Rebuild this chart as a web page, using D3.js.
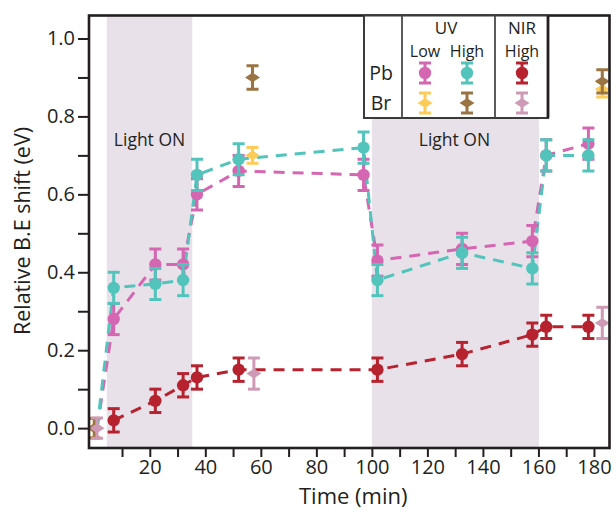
<!DOCTYPE html>
<html>
<head>
<meta charset="utf-8">
<script src="https://cdn.jsdelivr.net/npm/d3@7"></script>
<style>
  html, body { margin: 0; padding: 0; background: #fff; }
  svg text { font-family: "Open Sans", "Noto Sans", sans-serif; fill: #231f20; }
</style>
</head>
<body>
<svg id="chart" width="616" height="512"></svg>
<script>
// Time points (min) and relative binding-energy shifts (eV) with error bars
const pbUvLowTime  = [1, 7, 22, 32, 37, 52, 97, 102, 132.5, 157.8, 162.8, 178];
const pbUvLowShift = [0, 0.28, 0.42, 0.42, 0.60, 0.66, 0.65, 0.43, 0.46, 0.48, 0.70, 0.73];
const pbUvLowErr   = [null, 0.04, 0.04, 0.04, 0.04, 0.04, 0.04, 0.04, 0.04, 0.04, 0.04, 0.04];

const pbUvHighTime  = [1, 7, 22, 32, 37, 52, 97, 102, 132.5, 157.8, 162.8, 178];
const pbUvHighShift = [0, 0.36, 0.37, 0.38, 0.65, 0.69, 0.72, 0.38, 0.45, 0.41, 0.70, 0.70];
const pbUvHighErr   = [null, 0.04, 0.04, 0.04, 0.04, 0.04, 0.04, 0.04, 0.04, 0.04, 0.04, 0.04];

const pbNirHighTime  = [7, 22, 32, 37, 52, 102, 132.5, 157.8, 162.8, 178];
const pbNirHighShift = [0.02, 0.07, 0.11, 0.13, 0.15, 0.15, 0.19, 0.24, 0.26, 0.26];
const pbNirHighErr   = [0.03, 0.03, 0.03, 0.03, 0.03, 0.03, 0.03, 0.03, 0.03, 0.03];

const brUvLowTime  = [0, 57, 183];
const brUvLowShift = [0, 0.70, 0.87];
const brUvLowErr   = [0.025, 0.02, 0.02];

const brUvHighTime  = [0, 57, 183];
const brUvHighShift = [0, 0.90, 0.89];
const brUvHighErr   = [0.025, 0.03, 0.03];

const brNirHighTime  = [1, 57.5, 183];
const brNirHighShift = [0, 0.14, 0.27];
const brNirHighErr   = [0.026, 0.04, 0.04];

// Illumination windows (min)
const lightOnStart = [4.5, 100];
const lightOnEnd   = [35.3, 160.2];
const lightOnLabel = ["Light ON", "Light ON"];

const xTicks = [20, 40, 60, 80, 100, 120, 140, 160, 180];
const xMinorTicks = [10, 30, 50, 70, 90, 110, 130, 150, 170];
const yTicks = [0, 0.2, 0.4, 0.6, 0.8, 1.0];
const yMinorTicks = [0.1, 0.3, 0.5, 0.7, 0.9];

const colors = {
  pbUvLow: "#d466b2",
  pbUvHigh: "#52c4bb",
  pbNirHigh: "#b7222f",
  brUvLow: "#fdcb58",
  brUvHigh: "#9b7444",
  brNirHigh: "#cf9ab5",
  shade: "#e8e1ea"
};

const zip = (t, v, e) => t.map((d, i) => ({ t: d, v: v[i], e: e[i] }));
const series = [
  { key: "pbUvLow",   shape: "circle",  line: true,  data: zip(pbUvLowTime, pbUvLowShift, pbUvLowErr) },
  { key: "pbUvHigh",  shape: "circle",  line: true,  data: zip(pbUvHighTime, pbUvHighShift, pbUvHighErr) },
  { key: "pbNirHigh", shape: "circle",  line: true,  data: zip(pbNirHighTime, pbNirHighShift, pbNirHighErr) },
  { key: "brUvLow",   shape: "diamond", line: false, data: zip(brUvLowTime, brUvLowShift, brUvLowErr) },
  { key: "brUvHigh",  shape: "diamond", line: false, data: zip(brUvHighTime, brUvHighShift, brUvHighErr) },
  { key: "brNirHigh", shape: "diamond", line: false, data: zip(brNirHighTime, brNirHighShift, brNirHighErr) }
];

const svg = d3.select("#chart");
const plot = { left: 89, right: 609.5, top: 15.5, bottom: 448 };

const x = d3.scaleLinear().domain([-1.9, 185.6]).range([plot.left, plot.right]);
const y = d3.scaleLinear().domain([-0.051, 1.059]).range([plot.bottom, plot.top]);

svg.append("defs").append("clipPath").attr("id", "plotClip")
  .append("rect")
  .attr("x", plot.left).attr("y", plot.top)
  .attr("width", plot.right - plot.left).attr("height", plot.bottom - plot.top);

// Shaded illumination windows
const windows = lightOnStart.map((s, i) => ({ s, e: lightOnEnd[i], label: lightOnLabel[i] }));
svg.append("g").selectAll("rect")
  .data(windows)
  .join("rect")
  .attr("x", d => x(d.s)).attr("y", plot.top)
  .attr("width", d => x(d.e) - x(d.s)).attr("height", plot.bottom - plot.top)
  .attr("fill", colors.shade);

svg.append("g").selectAll("text")
  .data(windows)
  .join("text")
  .attr("x", d => (x(d.s) + x(d.e)) / 2 - (d.s < 50 ? 0 : 1))
  .attr("y", 146)
  .attr("text-anchor", "middle")
  .attr("font-size", 17.5)
  .text(d => d.label);

// Dashed connecting lines
const line = d3.line().x(d => x(d.t)).y(d => y(d.v));
const gLines = svg.append("g").attr("clip-path", "url(#plotClip)");
series.filter(s => s.line).forEach(s => {
  gLines.append("path")
    .attr("d", line(s.data))
    .attr("fill", "none")
    .attr("stroke", colors[s.key])
    .attr("stroke-width", 3)
    .attr("stroke-dasharray", "11,8");
});

// Error bars and markers
const capHalf = 6;
const diamond = (cx, cy) => `M${cx - 7.5},${cy} L${cx},${cy - 4.8} L${cx + 7.5},${cy} L${cx},${cy + 4.8} Z`;
const gMarks = svg.append("g").attr("clip-path", "url(#plotClip)");
series.forEach(s => {
  const c = colors[s.key];
  const g = gMarks.append("g");
  s.data.filter(d => d.e != null).forEach(d => {
    const cx = x(d.t), y0 = y(d.v - d.e), y1 = y(d.v + d.e);
    g.append("line").attr("x1", cx).attr("x2", cx).attr("y1", y0).attr("y2", y1)
      .attr("stroke", c).attr("stroke-width", 3);
    [y0, y1].forEach(yy => g.append("line")
      .attr("x1", cx - capHalf).attr("x2", cx + capHalf).attr("y1", yy).attr("y2", yy)
      .attr("stroke", c).attr("stroke-width", 3));
    if (s.shape === "circle") {
      g.append("circle").attr("cx", cx).attr("cy", y(d.v)).attr("r", 6.2).attr("fill", c);
    } else {
      g.append("path").attr("d", diamond(cx, y(d.v))).attr("fill", c);
    }
  });
});

// Axes
const xAxis = d3.axisBottom(x).tickValues(xTicks).tickSize(9).tickPadding(3).tickFormat(d3.format("d"));
const xMinor = d3.axisBottom(x).tickValues(xMinorTicks).tickSize(9).tickFormat("");
const yAxis = d3.axisLeft(y).tickValues(yTicks).tickSize(11).tickPadding(3).tickFormat(d3.format(".1f"));
const yMinor = d3.axisLeft(y).tickValues(yMinorTicks).tickSize(11).tickFormat("");

function styleAxis(g) {
  g.select(".domain").remove();
  g.selectAll(".tick line").attr("stroke", "#231f20").attr("stroke-width", 2);
  g.selectAll(".tick text").attr("font-size", 20).attr("font-family", "\"Open Sans\", sans-serif").attr("fill", "#231f20");
}
svg.append("g").attr("transform", `translate(0,${plot.bottom})`).call(xAxis).call(styleAxis);
svg.append("g").attr("transform", `translate(0,${plot.bottom})`).call(xMinor).call(styleAxis);
svg.append("g").attr("transform", `translate(${plot.left},0)`).call(yAxis).call(styleAxis);
svg.append("g").attr("transform", `translate(${plot.left},0)`).call(yMinor).call(styleAxis);

// Frame
svg.append("rect")
  .attr("x", plot.left).attr("y", plot.top)
  .attr("width", plot.right - plot.left).attr("height", plot.bottom - plot.top)
  .attr("fill", "none").attr("stroke", "#231f20").attr("stroke-width", 2.6);

// Axis titles
svg.append("text")
  .attr("x", (plot.left + plot.right) / 2 + 4).attr("y", 504)
  .attr("text-anchor", "middle").attr("font-size", 22)
  .text("Time (min)");
svg.append("text")
  .attr("transform", "translate(30,231) rotate(-90)")
  .attr("text-anchor", "middle").attr("font-size", 21.5)
  .text("Relative B.E shift (eV)");

// Legend table
const legendRows = ["Pb", "Br"];
const legendCols = [
  { head: "UV", sub: "Low", cx: 425 },
  { head: "", sub: "High", cx: 467 },
  { head: "NIR", sub: "High", cx: 522 }
];
const legendKeys = [["pbUvLow", "pbUvHigh", "pbNirHigh"], ["brUvLow", "brUvHigh", "brNirHigh"]];
const leg = { left: 364, right: 548, top: 15.5, bottom: 118, div1: 402, div2: 495 };
const lg = svg.append("g");
lg.append("rect")
  .attr("x", leg.left).attr("y", leg.top)
  .attr("width", leg.right - leg.left).attr("height", leg.bottom - leg.top)
  .attr("fill", "#fff").attr("stroke", "#3a3a3a").attr("stroke-width", 2);
lg.append("line").attr("x1", leg.right).attr("x2", leg.right).attr("y1", leg.top).attr("y2", leg.bottom)
  .attr("stroke", "#231f20").attr("stroke-width", 2.8);
[leg.div1, leg.div2].forEach(xx => lg.append("line")
  .attr("x1", xx).attr("x2", xx).attr("y1", leg.top).attr("y2", leg.bottom)
  .attr("stroke", "#4a4a4a").attr("stroke-width", 1.8));
lg.append("text").attr("x", 446).attr("y", 34).attr("text-anchor", "middle").attr("font-size", 17).text("UV");
lg.append("text").attr("x", 522).attr("y", 34).attr("text-anchor", "middle").attr("font-size", 17).text("NIR");
legendCols.forEach(c => lg.append("text")
  .attr("x", c.cx).attr("y", 57).attr("text-anchor", "middle").attr("font-size", 16).text(c.sub));
legendRows.forEach((r, i) => {
  const ry = 73 + i * 30;
  lg.append("text").attr("x", 381).attr("y", ry + 7).attr("text-anchor", "middle").attr("font-size", 19.5).text(r);
  legendKeys[i].forEach((k, j) => {
    const cx = legendCols[j].cx, c = colors[k];
    lg.append("line").attr("x1", cx).attr("x2", cx).attr("y1", ry - 10).attr("y2", ry + 10)
      .attr("stroke", c).attr("stroke-width", 3);
    [ry - 10, ry + 10].forEach(yy => lg.append("line")
      .attr("x1", cx - capHalf).attr("x2", cx + capHalf).attr("y1", yy).attr("y2", yy)
      .attr("stroke", c).attr("stroke-width", 3));
    if (i === 0) lg.append("circle").attr("cx", cx).attr("cy", ry).attr("r", 6.2).attr("fill", c);
    else lg.append("path").attr("d", diamond(cx, ry)).attr("fill", c);
  });
});
</script>
</body>
</html>
